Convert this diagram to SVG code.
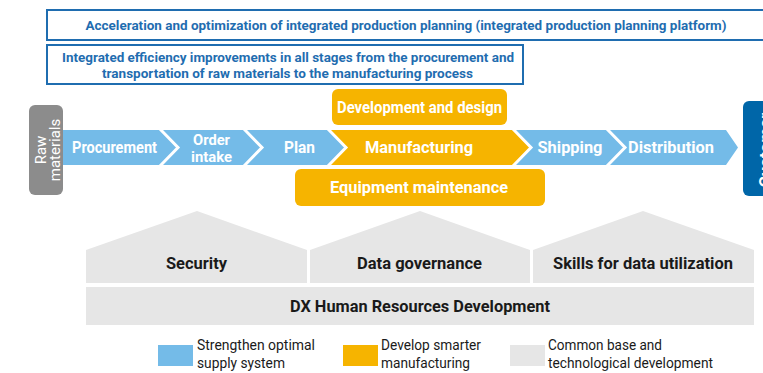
<svg xmlns="http://www.w3.org/2000/svg" width="763" height="373" viewBox="0 0 763 373">
<style>
.frame{fill:#ffffff;stroke:#1f6db0;stroke-width:2}
.ftxt{font-family:Roboto,"Liberation Sans",sans-serif;font-weight:700;font-size:12.5px;fill:#1f6db0;text-anchor:middle}
.blue{fill:#74bbe8}
.orange{fill:#f6b400}
.gap{fill:none;stroke:#ffffff;stroke-width:3}
.wt{font-family:Roboto,"Liberation Sans",sans-serif;font-weight:700;font-size:17px;fill:#ffffff;text-anchor:middle}
.wt2{font-family:Roboto,"Liberation Sans",sans-serif;font-weight:700;font-size:15px;fill:#ffffff;text-anchor:middle}
.house{fill:#e6e6e6}
.ht{font-family:Roboto,"Liberation Sans",sans-serif;font-weight:700;font-size:17px;fill:#1a1a1a;text-anchor:middle}
.lt{font-family:Roboto,"Liberation Sans",sans-serif;font-size:14.5px;fill:#1a1a1a}
.rt{font-family:Roboto,"Liberation Sans",sans-serif;font-size:15px;fill:#ffffff;text-anchor:middle}
</style>

<g id="goal-planning">
<rect class="frame" x="47" y="10" width="720" height="30"/>
<text class="ftxt" x="406" y="30" textLength="641" lengthAdjust="spacingAndGlyphs">Acceleration and optimization of integrated production planning (integrated production planning platform)</text>
</g>
<g id="goal-efficiency">
<rect class="frame" x="47" y="45" width="476" height="39"/>
<text class="ftxt" x="288" y="62" textLength="452" lengthAdjust="spacingAndGlyphs">Integrated efficiency improvements in all stages from the procurement and</text>
<text class="ftxt" x="287.5" y="78" textLength="371" lengthAdjust="spacingAndGlyphs">transportation of raw materials to the manufacturing process</text>
</g>

<g id="raw-materials">
<rect x="29" y="105" width="34" height="90" rx="6" fill="#8c8c8c"/>
<text class="rt" transform="translate(46,150) rotate(-90)">Raw</text>
<text class="rt" transform="translate(60,150) rotate(-90)">materials</text>
</g>

<g id="customer">
<rect x="743" y="101" width="30" height="95" rx="6" fill="#0066a8"/>
<text class="wt" transform="translate(771,150) rotate(-90)">Customer</text>
</g>

<g id="development-design">
<rect class="orange" x="332" y="89" width="175" height="36" rx="6"/>
<text class="wt" x="419.5" y="112.5" textLength="165" lengthAdjust="spacingAndGlyphs">Development and design</text>
</g>
<g id="equipment-maintenance">
<rect class="orange" x="295" y="169" width="250" height="37" rx="6"/>
<text class="wt" x="419" y="193" textLength="178" lengthAdjust="spacingAndGlyphs">Equipment maintenance</text>
</g>

<g id="procurement">
<polygon class="blue" points="63,130 160,130 178,147.5 160,165 63,165"/>
<text class="wt" x="114.5" y="153" textLength="85" lengthAdjust="spacingAndGlyphs">Procurement</text>
</g>
<g id="order-intake">
<polygon class="blue" points="160,130 244,130 262,147.5 244,165 160,165 178,147.5"/>
<text class="wt2" x="211.5" y="145" textLength="37" lengthAdjust="spacingAndGlyphs">Order</text>
<text class="wt2" x="211.5" y="162" textLength="41" lengthAdjust="spacingAndGlyphs">intake</text>
</g>
<g id="plan">
<polygon class="blue" points="244,130 328,130 346,147.5 328,165 244,165 262,147.5"/>
<text class="wt" x="299.5" y="153" textLength="31" lengthAdjust="spacingAndGlyphs">Plan</text>
</g>
<g id="manufacturing">
<polygon class="orange" points="328,130 513,130 531,147.5 513,165 328,165 346,147.5"/>
<text class="wt" x="419" y="153" textLength="108" lengthAdjust="spacingAndGlyphs">Manufacturing</text>
</g>
<g id="shipping">
<polygon class="blue" points="513,130 607,130 625,147.5 607,165 513,165 531,147.5"/>
<text class="wt" x="570" y="153" textLength="65" lengthAdjust="spacingAndGlyphs">Shipping</text>
</g>
<g id="distribution">
<polygon class="blue" points="607,130 726,130 738,147.5 726,165 607,165 625,147.5"/>
<text class="wt" x="671" y="153" textLength="86" lengthAdjust="spacingAndGlyphs">Distribution</text>
</g>

<g id="connectors">
<polyline class="gap" points="160,129 178,147.5 160,166"/>
<polyline class="gap" points="244,129 262,147.5 244,166"/>
<polyline class="gap" points="328,129 346,147.5 328,166"/>
<polyline class="gap" points="513,129 531,147.5 513,166"/>
<polyline class="gap" points="607,129 625,147.5 607,166"/>
</g>

<g id="security">
<polygon class="house" points="86,250 197,211 307,250 307,283 86,283"/>
<text class="ht" x="196.5" y="268.5" textLength="61" lengthAdjust="spacingAndGlyphs">Security</text>
</g>
<g id="data-governance">
<polygon class="house" points="310,250 420,211 530,250 530,283 310,283"/>
<text class="ht" x="419.5" y="268.5" textLength="125" lengthAdjust="spacingAndGlyphs">Data governance</text>
</g>
<g id="skills">
<polygon class="house" points="533,250 643,211 754,250 754,283 533,283"/>
<text class="ht" x="643" y="268.5" textLength="180" lengthAdjust="spacingAndGlyphs">Skills for data utilization</text>
</g>
<g id="dx-hr">
<rect class="house" x="86" y="287" width="668" height="38"/>
<text class="ht" x="420" y="312" textLength="260" lengthAdjust="spacingAndGlyphs">DX Human Resources Development</text>
</g>

<g id="legend-supply">
<rect class="blue" x="158" y="345" width="35" height="21"/>
<text class="lt" x="197" y="349.5" textLength="118" lengthAdjust="spacingAndGlyphs">Strengthen optimal</text>
<text class="lt" x="197" y="367.5" textLength="88" lengthAdjust="spacingAndGlyphs">supply system</text>
</g>
<g id="legend-manufacturing">
<rect class="orange" x="343" y="345" width="35" height="21"/>
<text class="lt" x="381" y="349.5" textLength="100" lengthAdjust="spacingAndGlyphs">Develop smarter</text>
<text class="lt" x="381" y="367.5" textLength="89" lengthAdjust="spacingAndGlyphs">manufacturing</text>
</g>
<g id="legend-common">
<rect class="house" x="510" y="345" width="35" height="21"/>
<text class="lt" x="548" y="349.5" textLength="114" lengthAdjust="spacingAndGlyphs">Common base and</text>
<text class="lt" x="548" y="367.5" textLength="165" lengthAdjust="spacingAndGlyphs">technological development</text>
</g>
</svg>
